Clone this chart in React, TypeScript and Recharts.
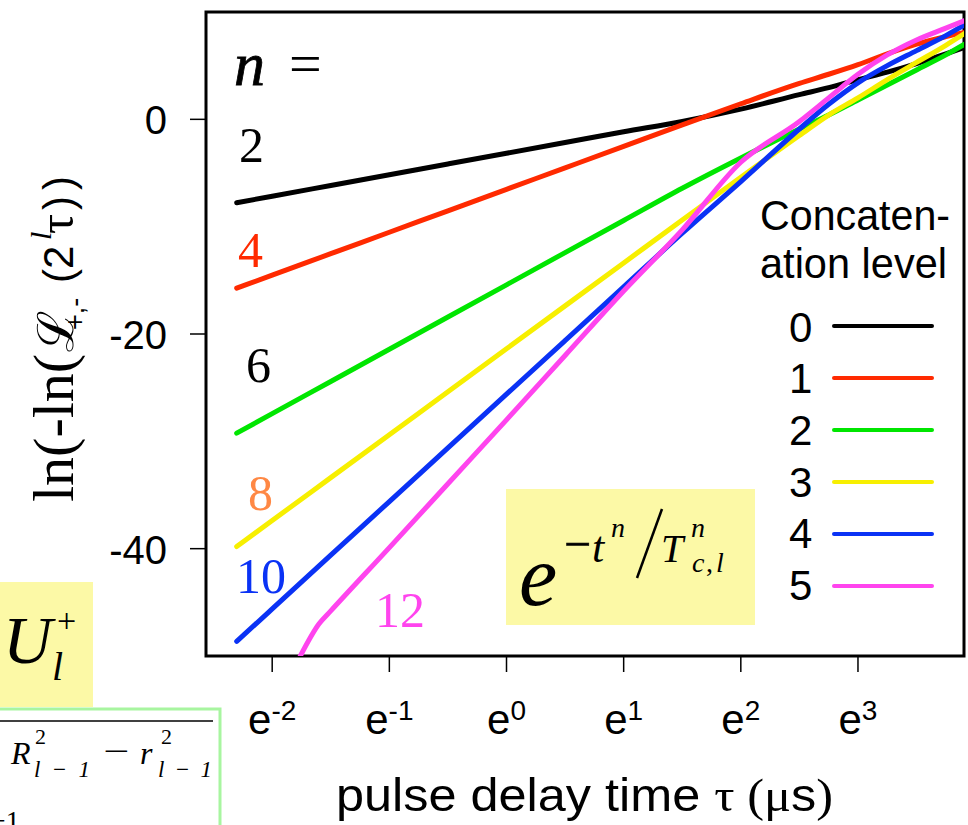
import { LineChart, Line, XAxis, YAxis, ReferenceArea } from 'recharts';

// ln(tau) grid shared by levels 0-4, level 5 starts later (enters from below the frame)
const lnTau = [-2.303, -2.0, -1.5, -1.0, -0.5, 0, 0.5, 1.0, 1.5, 2.0, 2.5, 2.75, 3.0, 3.25, 3.5, 3.75, 3.91];
const lnTau5 = [-1.76, -1.6, -1.5, -1.0, -0.5, 0, 0.5, 1.0, 1.5, 2.0, 2.5, 2.75, 3.0, 3.25, 3.5, 3.75, 3.91];

const level0 = [-7.77, -7.16, -6.16, -5.16, -4.16, -3.16, -2.16, -1.16, -0.2, 0.95, 2.3, 2.95, 3.7, 4.4, 5.2, 6.1, 6.7];
const level1 = [-15.73, -14.52, -12.52, -10.52, -8.52, -6.52, -4.52, -2.52, -0.52, 1.45, 3.35, 4.2, 5.1, 6.1, 7.0, 7.7, 8.1];
const level2 = [-29.24, -27.42, -24.42, -21.42, -18.42, -15.42, -12.42, -9.42, -6.42, -3.6, -0.9, 0.4, 1.8, 3.2, 4.6, 6.0, 7.0];
const level3 = [-39.8, -37.38, -33.38, -29.38, -25.38, -21.38, -17.38, -13.38, -9.38, -5.4, -1.5, 0.4, 2.0, 3.7, 5.3, 6.9, 8.0];
const level4 = [-48.64, -45.61, -40.61, -35.61, -30.61, -25.61, -20.61, -15.61, -10.61, -5.8, -0.9, 1.4, 3.4, 5.0, 6.4, 7.8, 8.8];
const level5 = [-50, -47.0, -45.8, -39.9, -33.95, -28.0, -22.0, -16.0, -10.3, -4.0, -0.2, 2.0, 4.2, 6.0, 7.4, 8.5, 9.2];

const levelNames = ['0', '1', '2', '3', '4', '5'];
const levelColors = ['#000000', '#ff2a00', '#00e600', '#f7ef00', '#0a32f5', '#ff44ee'];

const xTicks = [-2, -1, 0, 1, 2, 3];
const yTicks = [0, -20, -40];
const yTickLabels = ['0', '-20', '-40'];

const slopeLabels = ['2', '4', '6', '8', '10', '12'];
const slopeColors = ['#000000', '#ff2a00', '#000000', '#ff8844', '#0a32f5', '#ff44ee'];

const allLevels = [level0, level1, level2, level3, level4, level5];
const series = allLevels.map((vals, i) =>
  (i === 5 ? lnTau5 : lnTau).map((x, j) => ({ x, y: vals[j] }))
);

const SANS = '"Liberation Sans", Arial, sans-serif';
const SERIF = '"Liberation Serif", "Times New Roman", serif';

const XTick = (props: any) => {
  const { x, y, payload } = props;
  const v = payload.value;
  return (
    <text x={x} y={y + 60} textAnchor="middle" fontFamily={SANS} fill="#000">
      <tspan fontSize={42}>e</tspan>
      <tspan fontSize={28} dy={-14}>{v < 0 ? '-' + Math.abs(v) : String(v)}</tspan>
    </text>
  );
};

const YTick = (props: any) => {
  const { x, y, payload } = props;
  const idx = yTicks.indexOf(payload.value);
  return (
    <text x={x - 21} y={y + 15} textAnchor="end" fontFamily={SANS} fontSize={40} fill="#000">
      {yTickLabels[idx]}
    </text>
  );
};

const slopePos = [
  [239, 162],
  [238, 267],
  [246, 382],
  [248, 510],
  [236, 593],
  [375, 627],
];
const legendTextY = [342, 393, 445, 497, 548, 600];
const legendLineY = [326, 378, 430, 482, 534, 586];

function Overlay() {
  return (
    <svg
      width={968}
      height={825}
      style={{ position: 'absolute', left: 0, top: 0, pointerEvents: 'none' }}
    >
      {/* fragments of the neighbouring figure on the left */}
      <rect x={0} y={582} width={93} height={125} fill="#fcf9a6" />
      <text x={3} y={663} fontFamily={SERIF} fontStyle="italic" fontSize={68}>U</text>
      <text x={57} y={632} fontFamily={SERIF} fontSize={34}>+</text>
      <text x={52} y={680} fontFamily={SERIF} fontStyle="italic" fontSize={40}>l</text>
      <polyline points="0,709 220,709 220,825" fill="none" stroke="#a8f5a0" strokeWidth={3} />
      <line x1={0} y1={721} x2={213} y2={721} stroke="#000" strokeWidth={1.5} />
      <text x={11} y={764} fontFamily={SERIF} fontStyle="italic" fontSize={32}>R</text>
      <text x={35} y={744} fontFamily={SERIF} fontSize={22}>2</text>
      <text x={34} y={777} fontFamily={SERIF} fontStyle="italic" fontSize={23} textLength={56} lengthAdjust="spacing">l−1</text>
      <text x={103} y={762} fontFamily={SERIF} fontSize={32} textLength={26} lengthAdjust="spacingAndGlyphs">−</text>
      <text x={140} y={764} fontFamily={SERIF} fontStyle="italic" fontSize={32}>r</text>
      <text x={161} y={744} fontFamily={SERIF} fontSize={22}>2</text>
      <text x={158} y={777} fontFamily={SERIF} fontStyle="italic" fontSize={23} textLength={54} lengthAdjust="spacing">l−1</text>
      <text x={-10} y={830} fontFamily={SERIF} fontSize={28}>−1</text>

      {/* y axis title */}
      <text transform="translate(73,502) rotate(-90)" fill="#000">
        <tspan x={0} y={0} fontFamily={SERIF} fontSize={58}>ln(-ln(</tspan>
        <tspan x={150} y={0} fontFamily={'"DejaVu Serif", serif'} fontSize={50}>ℒ</tspan>
        <tspan x={172} y={11} fontFamily={SANS} fontSize={27}>+,-</tspan>
        <tspan x={219} y={0} fontFamily={SANS} fontSize={42}>(2</tspan>
        <tspan x={262} y={-22} fontFamily={SERIF} fontStyle="italic" fontSize={30}>l</tspan>
        <tspan x={268} y={0} fontFamily={SERIF} fontSize={50}>τ</tspan>
        <tspan x={292} y={0} fontFamily={SANS} fontSize={42} letterSpacing={6}>))</tspan>
      </text>

      {/* x axis title */}
      <text x={336} y={811} fontSize={46} fill="#000" textLength={497} lengthAdjust="spacingAndGlyphs">
        <tspan fontFamily={SANS}>pulse delay time </tspan>
        <tspan fontFamily={SERIF}>τ (μ</tspan>
        <tspan fontFamily={SANS}>s</tspan>
        <tspan fontFamily={SERIF}>)</tspan>
      </text>

      {/* n = and slope labels */}
      <text x={234} y={85} fontFamily={SERIF} fontStyle="italic" fontSize={62} stroke="#000" strokeWidth={0.8}>n</text>
      <text x={289} y={83} fontFamily={SERIF} fontSize={58}>=</text>
      {slopeLabels.map((s, i) => (
        <text key={s} x={slopePos[i][0]} y={slopePos[i][1]} fontFamily={SERIF} fontSize={50} fill={slopeColors[i]}>
          {s}
        </text>
      ))}

      {/* stretched exponential box */}
      <rect x={506} y={489} width={249} height={136} fill="#fcf9a6" />
      <text x={519} y={605} fontFamily={SERIF} fontStyle="italic" fontSize={86}>e</text>
      <text x={564} y={561} fontFamily={SERIF} fontSize={50} textLength={27} lengthAdjust="spacingAndGlyphs" stroke="#000" strokeWidth={0.6}>−</text>
      <text x={592} y={562} fontFamily={SERIF} fontStyle="italic" fontSize={44}>t</text>
      <text x={611} y={537} fontFamily={SERIF} fontStyle="italic" fontSize={28}>n</text>
      <line x1={662} y1={509} x2={637} y2={578} stroke="#000" strokeWidth={2.5} />
      <text x={661} y={562} fontFamily={SERIF} fontStyle="italic" fontSize={40}>T</text>
      <text x={691} y={537} fontFamily={SERIF} fontStyle="italic" fontSize={28}>n</text>
      <text x={692} y={572} fontFamily={SERIF} fontStyle="italic" fontSize={28}>c</text>
      <text x={706} y={572} fontFamily={SERIF} fontSize={28}>,</text>
      <text x={716} y={572} fontFamily={SERIF} fontStyle="italic" fontSize={28}>l</text>

      {/* legend */}
      <text x={760} y={230} fontFamily={SANS} fontSize={42} textLength={190} lengthAdjust="spacingAndGlyphs">Concaten-</text>
      <text x={760} y={278} fontFamily={SANS} fontSize={42} textLength={187} lengthAdjust="spacingAndGlyphs">ation level</text>
      {levelNames.map((name, i) => (
        <g key={name}>
          <text x={789} y={legendTextY[i]} fontFamily={SANS} fontSize={42}>{name}</text>
          <line x1={834} y1={legendLineY[i]} x2={932} y2={legendLineY[i]} stroke={levelColors[i]} strokeWidth={4} strokeLinecap="round" />
        </g>
      ))}
    </svg>
  );
}

export default function App() {
  return (
    <div style={{ position: 'absolute', left: 0, top: 0, width: 968, height: 825, background: '#fff' }}>
      <LineChart width={968} height={825} margin={{ top: 12, right: 4, bottom: 0, left: 0 }}>
        <XAxis
          type="number"
          dataKey="x"
          domain={[-2.565, 3.905]}
          ticks={xTicks}
          allowDataOverflow
          axisLine={false}
          tickSize={16}
          tickLine={{ stroke: '#000', strokeWidth: 1.5 }}
          tick={<XTick />}
          height={169}
        />
        <YAxis
          type="number"
          domain={[-50, 10]}
          ticks={yTicks}
          allowDataOverflow
          axisLine={false}
          tickSize={16}
          tickLine={{ stroke: '#000', strokeWidth: 1.5 }}
          tick={<YTick />}
          width={206}
        />
        {series.map((d, i) => (
          <Line
            key={levelNames[i]}
            data={d}
            dataKey="y"
            type="monotone"
            stroke={levelColors[i]}
            strokeWidth={5}
            strokeLinecap="round"
            dot={false}
            isAnimationActive={false}
          />
        ))}
        <ReferenceArea x1={-2.565} x2={3.905} y1={-50} y2={10} fill="none" stroke="#000" strokeWidth={3} />
      </LineChart>
      <Overlay />
    </div>
  );
}
